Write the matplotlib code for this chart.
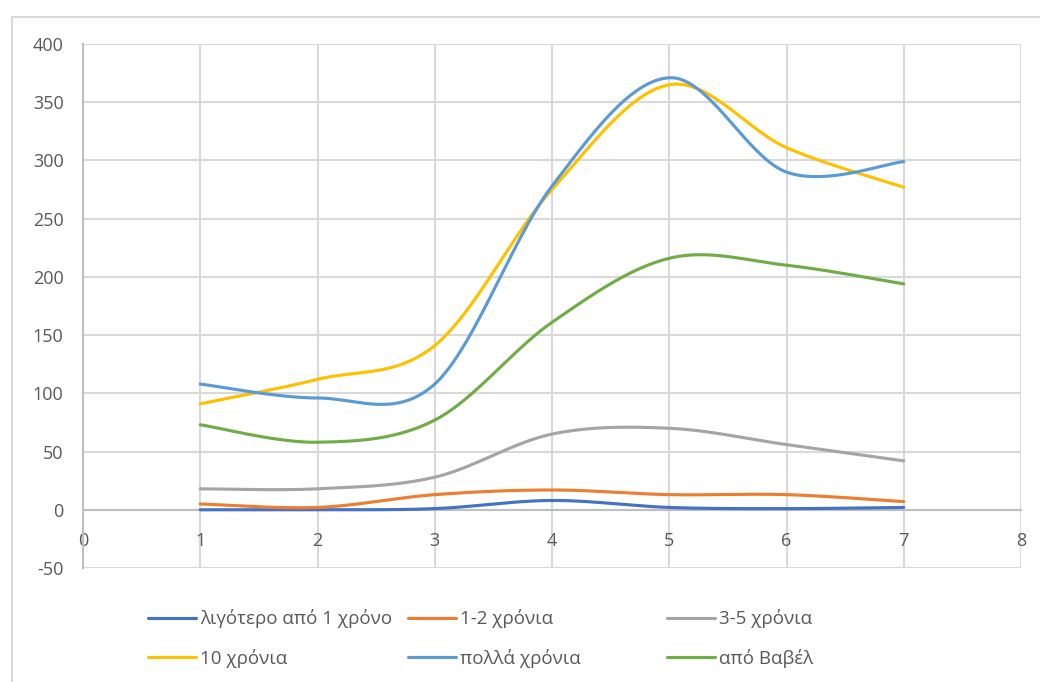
import numpy as np
import matplotlib
matplotlib.use("Agg")
import matplotlib.pyplot as plt
from matplotlib.lines import Line2D

plt.rcParams['font.family'] = ['Open Sans', 'DejaVu Sans']
plt.rcParams['axes.unicode_minus'] = False

x_values = [1, 2, 3, 4, 5, 6, 7]
series_names = ["λιγότερο από 1 χρόνο", "1-2 χρόνια", "3-5 χρόνια",
                "10 χρόνια", "πολλά χρόνια", "από Βαβέλ"]
less_1 = [0, 0, 1, 8, 2, 1, 2]
y_1_2 = [5, 2, 13, 17, 13, 13, 7]
y_3_5 = [18, 18, 28, 65, 70, 56, 42]
y_10 = [91, 112, 141, 275, 365, 311, 277]
many = [108, 96, 108, 278, 371, 290, 299]
babel = [73, 58, 77, 161, 216, 210, 194]
series_values = [less_1, y_1_2, y_3_5, y_10, many, babel]
colors = ["#4472C4", "#ED7D31", "#A5A5A5", "#FFC000", "#5B9BD5", "#70AD47"]
x_ticks = [0, 1, 2, 3, 4, 5, 6, 7, 8]
y_ticks = [-50, 0, 50, 100, 150, 200, 250, 300, 350, 400]


def smooth(xs, ys, n=40):
    """Excel-like smoothed line: cubic Bezier segments with Catmull-Rom control points."""
    P = np.column_stack([xs, ys]).astype(float)
    m = len(P)
    out = []
    for i in range(m - 1):
        p0 = P[i - 1] if i > 0 else P[i]
        p1 = P[i]
        p2 = P[i + 1]
        p3 = P[i + 2] if i + 2 < m else P[i + 1]
        c1 = p1 + (p2 - p0) / 6.0
        c2 = p2 - (p3 - p1) / 6.0
        t = np.linspace(0, 1, n)[:, None]
        seg = ((1 - t) ** 3) * p1 + 3 * ((1 - t) ** 2) * t * c1 + 3 * (1 - t) * t ** 2 * c2 + t ** 3 * p2
        out.append(seg if i == 0 else seg[1:])
    seg = np.vstack(out)
    return seg[:, 0], seg[:, 1]


fig = plt.figure(figsize=(10.4, 6.82), dpi=100)
W, H = 1040, 682
ax = fig.add_axes([83 / W, 1 - 568 / H, (1021 - 83) / W, (568 - 44) / H])

# chart area border (cropped at right / bottom)
fig.add_artist(Line2D([12 / W, 1.0], [1 - 17 / H, 1 - 17 / H], color="#D9D9D9", lw=1.5,
                      transform=fig.transFigure))
fig.add_artist(Line2D([12 / W, 12 / W], [0.0, 1 - 17 / H], color="#D9D9D9", lw=1.5,
                      transform=fig.transFigure))

ax.set_xlim(0, 8)
ax.set_ylim(-50, 400)
ax.set_xticks(x_ticks)
ax.set_yticks(y_ticks)
ax.grid(True, color="#D9D9D9", lw=1.5)
ax.set_axisbelow(True)
for s in ["top", "right"]:
    ax.spines[s].set_visible(False)
ax.spines["bottom"].set_position(("data", 0))
ax.spines["bottom"].set_color("#BFBFBF")
ax.spines["bottom"].set_linewidth(1.5)
ax.spines["left"].set_color("#BFBFBF")
ax.spines["left"].set_linewidth(1.5)
ax.tick_params(axis="both", length=0, labelsize=13, labelcolor="#595959")
ax.tick_params(axis="y", pad=14)
ax.tick_params(axis="x", pad=16)

handles = []
for name, vals, c in zip(series_names, series_values, colors):
    sx, sy = smooth(x_values, vals)
    ax.plot(sx, sy, color=c, lw=2.25, solid_capstyle="round", zorder=3)
    handles.append(Line2D([], [], color=c, lw=2.25, solid_capstyle="round"))

col_x = [148, 408, 667]
for j in range(3):
    leg = fig.legend([handles[j], handles[j + 3]], [series_names[j], series_names[j + 3]],
                     loc="center left", bbox_to_anchor=(col_x[j] / W, 1 - 638.5 / H),
                     bbox_transform=fig.transFigure, frameon=False, fontsize=13.5,
                     handlelength=2.55, handletextpad=0.22, labelspacing=1.1,
                     borderpad=0, borderaxespad=0)
    for t in leg.get_texts():
        t.set_color("#595959")

fig.savefig("out.png", dpi=100, facecolor="white")
